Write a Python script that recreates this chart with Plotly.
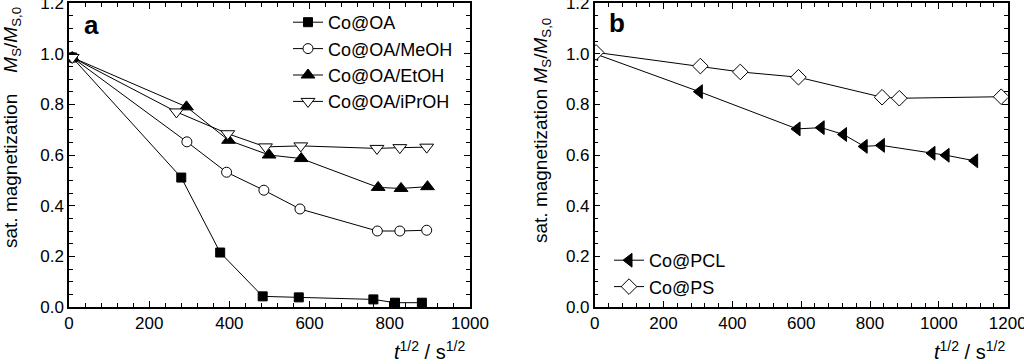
import plotly.graph_objects as go

W, H = 1024, 364

# ---- Panel a data ----
x_oa = [8, 280, 377, 483, 573, 759, 813, 880]
y_oa = [0.985, 0.511, 0.215, 0.042, 0.038, 0.030, 0.017, 0.017]

x_meoh = [8, 294, 393, 486, 576, 769, 825, 892]
y_meoh = [0.985, 0.652, 0.532, 0.461, 0.387, 0.300, 0.300, 0.303]

x_etoh = [8, 293, 398, 499, 579, 771, 828, 894]
y_etoh = [0.985, 0.790, 0.658, 0.600, 0.586, 0.472, 0.468, 0.475]

x_iproh = [8, 268, 396, 490, 578, 768, 825, 892]
y_iproh = [0.985, 0.770, 0.684, 0.632, 0.636, 0.626, 0.629, 0.631]

# ---- Panel b data ----
x_pcl = [0, 304, 588, 658, 723, 783, 833, 980, 1021, 1104]
y_pcl = [1.0, 0.850, 0.703, 0.708, 0.681, 0.634, 0.638, 0.607, 0.599, 0.577]

x_ps = [4, 307, 423, 592, 835, 885, 1181]
y_ps = [1.005, 0.951, 0.928, 0.907, 0.828, 0.824, 0.830]

# ---- tick labels ----
y_ticks = [0.0, 0.2, 0.4, 0.6, 0.8, 1.0, 1.2]
y_ticktext = ["0.0", "0.2", "0.4", "0.6", "0.8", "1.0", "1.2"]
xa_ticks = [0, 200, 400, 600, 800, 1000]
xb_ticks = [0, 200, 400, 600, 800, 1000, 1200]

FONT = "Liberation Sans, Arial, sans-serif"


def px(x):
    return x / W


def py(y):
    return 1 - y / H


fig = go.Figure()

def add(x, y, name, symbol, fill, xa, ya, legend, size):
    fig.add_trace(go.Scatter(
        x=x, y=y, name=name, mode="lines+markers",
        xaxis=xa, yaxis=ya, legend=legend,
        line=dict(color="black", width=1),
        marker=dict(symbol=symbol, size=size, color=fill,
                    line=dict(color="black", width=1)),
    ))

add(x_oa, y_oa, "Co@OA", "square", "black", "x", "y", "legend", 9)
add(x_meoh, y_meoh, "Co@OA/MeOH", "circle", "white", "x", "y", "legend", 10)
add(x_etoh, y_etoh, "Co@OA/EtOH", "triangle-up", "black", "x", "y", "legend", 12)
add(x_iproh, y_iproh, "Co@OA/iPrOH", "triangle-down", "white", "x", "y", "legend", 12)
add(x_pcl, y_pcl, "Co@PCL", "triangle-left", "black", "x2", "y2", "legend2", 12)
add(x_ps, y_ps, "Co@PS", "diamond", "white", "x2", "y2", "legend2", 12)

ydom = [py(307), py(3)]

common_axis = dict(
    showline=True, linecolor="black", linewidth=1.5, mirror="allticks",
    ticks="inside", ticklen=6, tickwidth=1, tickcolor="black",
    showgrid=False, zeroline=False, tickmode="array",
    ticklabeloverflow="allow", automargin=False,
    tickfont=dict(family=FONT, size=17, color="black"),
)

xminor = dict(dtick=40, ticks="inside", ticklen=4, tickcolor="black", showgrid=False)
yminor = dict(dtick=0.05, ticks="inside", ticklen=4, tickcolor="black", showgrid=False)

fig.update_layout(
    width=W, height=H,
    margin=dict(l=0, r=0, t=0, b=0, autoexpand=False),
    paper_bgcolor="white", plot_bgcolor="white",
    font=dict(family=FONT, color="black"),
    showlegend=True,
    xaxis=dict(domain=[px(69), px(470)], range=[0, 1000], anchor="y",
               tickvals=xa_ticks, ticktext=[str(v) for v in xa_ticks],
               minor=xminor, **common_axis),
    yaxis=dict(domain=ydom, range=[0, 1.2], anchor="x",
               tickvals=y_ticks, ticktext=y_ticktext,
               minor=yminor, **common_axis),
    xaxis2=dict(domain=[px(594.7), px(1007.7)], range=[0, 1200], anchor="y2",
                tickvals=xb_ticks, ticktext=[str(v) for v in xb_ticks],
                minor=xminor, **common_axis),
    yaxis2=dict(domain=ydom, range=[0, 1.2], anchor="x2",
                tickvals=y_ticks, ticktext=y_ticktext,
                minor=yminor, **common_axis),
    legend=dict(x=px(288), y=py(4), xanchor="left", yanchor="top",
                bgcolor="rgba(0,0,0,0)", font=dict(family=FONT, size=18, color="black"),
                itemsizing="trace", tracegroupgap=0),
    legend2=dict(x=px(609), y=py(242), xanchor="left", yanchor="top",
                 bgcolor="rgba(0,0,0,0)", font=dict(family=FONT, size=18, color="black"),
                 itemsizing="trace", tracegroupgap=0),
)

ann = [
    dict(text="<b>a</b>", x=px(91), y=py(25), font=dict(size=26)),
    dict(text="<b>b</b>", x=px(617), y=py(23), font=dict(size=26)),
    dict(text="sat. magnetization&nbsp;&nbsp;&nbsp;&nbsp;<i>M</i><sub>S</sub>/<i>M</i><sub>S,0</sub>",
         x=px(12), y=py(128), textangle=-90, font=dict(size=19)),
    dict(text="sat. magnetization <i>M</i><sub>S</sub>/<i>M</i><sub>S,0</sub>",
         x=px(542), y=py(131), textangle=-90, font=dict(size=19)),
    dict(text="<i>t</i><sup>1/2</sup> / s<sup>1/2</sup>", x=px(467), y=py(350),
         xanchor="right", font=dict(size=20)),
    dict(text="<i>t</i><sup>1/2</sup> / s<sup>1/2</sup>", x=px(1007), y=py(350),
         xanchor="right", font=dict(size=20)),
]
for a in ann:
    a.setdefault("xanchor", "center")
    a.setdefault("yanchor", "middle")
    a["font"] = dict(family=FONT, color="black", **a["font"])
    fig.add_annotation(xref="paper", yref="paper", showarrow=False, **a)

fig.write_html("out.html",
               config={"displayModeBar": False},
               post_script="document.body.style.margin='0';document.body.style.overflow='hidden';")
